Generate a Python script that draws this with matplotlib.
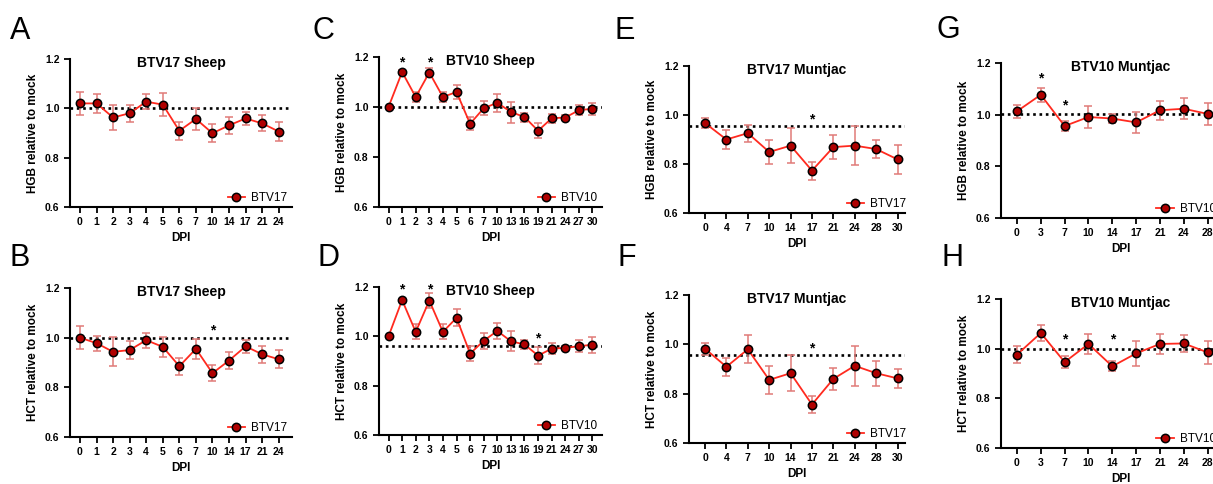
import matplotlib
matplotlib.use("Agg")
import matplotlib.pyplot as plt
import numpy as np

plt.rcParams['font.family'] = ['Liberation Sans', 'DejaVu Sans']

# ---------------- data ----------------
dpi_sheep17 = ["0", "1", "2", "3", "4", "5", "6", "7", "10", "14", "17", "21", "24"]
dpi_sheep10 = ["0", "1", "2", "3", "4", "5", "6", "7", "10", "13", "16", "19", "21", "24", "27", "30"]
dpi_muntjac = ["0", "4", "7", "10", "14", "17", "21", "24", "28", "30"]
dpi_muntjac10 = ["0", "3", "7", "10", "14", "17", "21", "24", "28", "30"]

a_val = [1.02, 1.02, 0.963, 0.98, 1.027, 1.015, 0.909, 0.957, 0.899, 0.931, 0.959, 0.939, 0.906]
a_err = [0.045, 0.04, 0.052, 0.035, 0.03, 0.048, 0.037, 0.045, 0.037, 0.035, 0.028, 0.032, 0.04]

b_val = [1.0, 0.978, 0.943, 0.95, 0.99, 0.963, 0.885, 0.955, 0.857, 0.908, 0.965, 0.933, 0.913]
b_err = [0.045, 0.03, 0.058, 0.035, 0.03, 0.04, 0.035, 0.04, 0.032, 0.033, 0.025, 0.033, 0.037]

c_val = [1.0, 1.14, 1.04, 1.138, 1.04, 1.06, 0.933, 0.995, 1.017, 0.98, 0.96, 0.905, 0.955, 0.958, 0.987, 0.993]
c_err = [0.0, 0.007, 0.02, 0.018, 0.02, 0.028, 0.025, 0.028, 0.035, 0.042, 0.018, 0.03, 0.018, 0.01, 0.02, 0.025]

d_val = [1.0, 1.147, 1.018, 1.145, 1.018, 1.075, 0.93, 0.982, 1.022, 0.98, 0.967, 0.922, 0.95, 0.953, 0.96, 0.966]
d_err = [0.0, 0.005, 0.03, 0.03, 0.03, 0.035, 0.032, 0.033, 0.033, 0.04, 0.018, 0.035, 0.022, 0.008, 0.025, 0.032]

e_val = [0.967, 0.90, 0.926, 0.849, 0.875, 0.773, 0.869, 0.875, 0.861, 0.819]
e_err = [0.02, 0.037, 0.035, 0.047, 0.07, 0.037, 0.049, 0.08, 0.038, 0.06]

f_val = [0.982, 0.909, 0.980, 0.856, 0.883, 0.756, 0.86, 0.913, 0.883, 0.862]
f_err = [0.025, 0.037, 0.056, 0.058, 0.072, 0.034, 0.046, 0.082, 0.05, 0.038]

g_val = [1.013, 1.077, 0.956, 0.991, 0.985, 0.970, 1.017, 1.023, 1.003, 1.0]
g_err = [0.025, 0.028, 0.02, 0.042, 0.017, 0.04, 0.036, 0.04, 0.043, 0.03]

h_val = [0.976, 1.063, 0.946, 1.019, 0.929, 0.981, 1.019, 1.021, 0.985, 0.99]
h_err = [0.035, 0.031, 0.025, 0.04, 0.02, 0.05, 0.039, 0.035, 0.047, 0.03]

# reference (mock) dotted line levels
a_ref, b_ref, c_ref, d_ref = 1.0, 1.0, 1.0, 0.96
e_ref, f_ref, g_ref, h_ref = 0.956, 0.956, 1.002, 1.0

# significance stars: (category index, y)
a_stars = []
b_stars = [(8, 1.03)]
c_stars = [(1, 1.178), (3, 1.178)]
d_stars = [(1, 1.19), (3, 1.19), (11, 0.99)]
e_stars = [(5, 0.98)]
f_stars = [(5, 0.985)]
g_stars = [(1, 1.14), (2, 1.037)]
h_stars = [(2, 1.037), (4, 1.037)]

# ---------------- drawing ----------------
W, H = 1213, 484
fig = plt.figure(figsize=(W / 100, H / 100), dpi=100)

LINE_RED = '#ff2a1f'
FILL_RED = '#b00000'
ERR_RED = '#e07a78'


def panel(box, xlim, cats, vals, errs, ref, stars, title, ylabel, legend, letter,
          letter_xy, leg_x=1.0):
    left, top, right, bottom = box
    ax = fig.add_axes([left / W, 1 - bottom / H, (right - left) / W, (bottom - top) / H])
    x = np.arange(len(cats))
    ax.errorbar(x, vals, yerr=errs, fmt='none', ecolor=ERR_RED, elinewidth=1.1,
                capsize=3, capthick=1.1, zorder=2, clip_on=False)
    ax.plot(x, vals, color=LINE_RED, lw=1.3, marker='o', markersize=6.0,
            markerfacecolor=FILL_RED, markeredgecolor='black', markeredgewidth=1.1,
            zorder=3, label=legend, clip_on=False)
    ax.axhline(ref, color='black', linestyle=(0, (1, 1.4)), lw=1.9, zorder=1)
    for (i, yv) in stars:
        ax.text(i, yv, '*', ha='center', va='center', fontsize=10, fontweight='bold')
    ax.set_xlim(*xlim)
    ax.set_ylim(0.6, 1.2)
    ax.set_yticks([0.6, 0.8, 1.0, 1.2])
    ax.set_yticklabels(['0.6', '0.8', '1.0', '1.2'])
    ax.set_xticks(x)
    ax.set_xticklabels(cats)
    for s in ['top', 'right']:
        ax.spines[s].set_visible(False)
    for s in ['left', 'bottom']:
        ax.spines[s].set_linewidth(1.5)
    ax.tick_params(axis='both', direction='out', length=4, width=1.3, labelsize=7.5, pad=3.5)
    for lab in ax.get_xticklabels() + ax.get_yticklabels():
        lab.set_fontweight('bold')
    ax.set_xlabel('DPI', fontsize=8.5, fontweight='bold', labelpad=3)
    ax.set_ylabel(ylabel, fontsize=8.5, fontweight='bold', labelpad=4)
    ax.text(0.5, 0.975, title, transform=ax.transAxes, ha='center', va='center',
            fontsize=10, fontweight='bold')
    ax.legend(loc='lower right', bbox_to_anchor=(leg_x, -0.01), frameon=False,
              fontsize=8.5, handlelength=1.5, handletextpad=0.5, borderaxespad=0.0)
    fig.text(letter_xy[0] / W, 1 - letter_xy[1] / H, letter, fontsize=22,
             ha='left', va='baseline')
    return ax


panel((70, 59, 292, 207), (-0.6, 12.8), dpi_sheep17, a_val, a_err, a_ref, a_stars,
      'BTV17 Sheep', 'HGB relative to mock', 'BTV17', 'A', (10, 39))
panel((70, 288, 292, 437), (-0.6, 12.8), dpi_sheep17, b_val, b_err, b_ref, b_stars,
      'BTV17 Sheep', 'HCT relative to mock', 'BTV17', 'B', (10, 266))
panel((379, 57, 602, 207), (-0.7, 15.7), dpi_sheep10, c_val, c_err, c_ref, c_stars,
      'BTV10 Sheep', 'HGB relative to mock', 'BTV10', 'C', (312, 39))
panel((379, 287, 602, 435), (-0.7, 15.7), dpi_sheep10, d_val, d_err, d_ref, d_stars,
      'BTV10 Sheep', 'HCT relative to mock', 'BTV10', 'D', (317, 266))
panel((689, 66, 905, 213), (-0.75, 9.35), dpi_muntjac, e_val, e_err, e_ref, e_stars,
      'BTV17 Muntjac', 'HGB relative to mock', 'BTV17', 'E', (614, 39), leg_x=1.028)
panel((689, 295, 905, 443), (-0.75, 9.35), dpi_muntjac, f_val, f_err, f_ref, f_stars,
      'BTV17 Muntjac', 'HCT relative to mock', 'BTV17', 'F', (617, 266), leg_x=1.028)
panel((1001, 63, 1241, 218), (-0.67, 9.4), dpi_muntjac10, g_val, g_err, g_ref, g_stars,
      'BTV10 Muntjac', 'HGB relative to mock', 'BTV10', 'G', (936, 38), leg_x=0.915)
panel((1001, 299, 1241, 448), (-0.67, 9.4), dpi_muntjac10, h_val, h_err, h_ref, h_stars,
      'BTV10 Muntjac', 'HCT relative to mock', 'BTV10', 'H', (942, 266), leg_x=0.915)

fig.savefig('out.png', dpi=100)
